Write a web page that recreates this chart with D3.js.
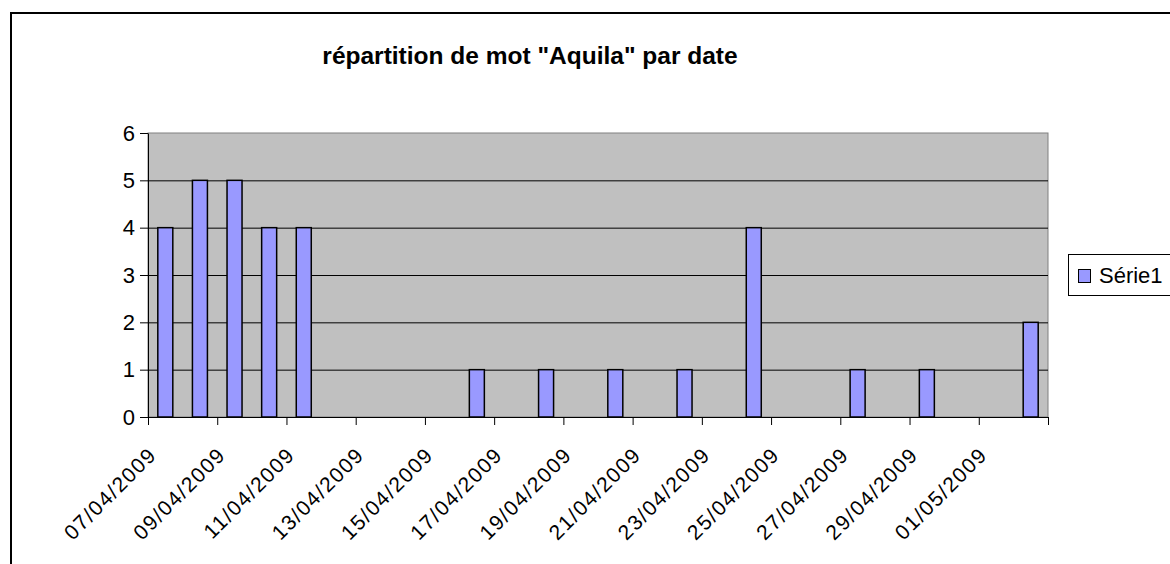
<!DOCTYPE html>
<html>
<head>
<meta charset="utf-8">
<script src="https://cdn.jsdelivr.net/npm/d3@7"></script>
<style>
  body { margin: 0; background: #fff; }
  svg text { font-family: "Liberation Sans", Arial, sans-serif; fill: #000; }
</style>
</head>
<body>
<script>
// data
var barDates = ["07/04/2009", "08/04/2009", "09/04/2009", "10/04/2009", "11/04/2009",
                "16/04/2009", "18/04/2009", "20/04/2009", "22/04/2009", "24/04/2009",
                "27/04/2009", "29/04/2009", "02/05/2009"];
var barValues = [4, 5, 5, 4, 4, 1, 1, 1, 1, 4, 1, 1, 2];
var tickLabels = ["07/04/2009", "09/04/2009", "11/04/2009", "13/04/2009", "15/04/2009",
                  "17/04/2009", "19/04/2009", "21/04/2009", "23/04/2009", "25/04/2009",
                  "27/04/2009", "29/04/2009", "01/05/2009"];
var yTicks = [0, 1, 2, 3, 4, 5, 6];
var axisEnd = "03/05/2009";
var seriesName = "Série1";
var title = 'répartition de mot "Aquila" par date';

var parseDate = d3.utcParse("%d/%m/%Y");

var width = 1170, height = 564;
var margin = {left: 148, right: 122, top: 133, bottom: 147};
var plotW = width - margin.left - margin.right;
var plotH = height - margin.top - margin.bottom;

var svg = d3.select("body").append("svg")
    .attr("width", width)
    .attr("height", height);

// chart outer frame
svg.append("rect")
   .attr("x", 11).attr("y", 13)
   .attr("width", 1200).attr("height", 600)
   .attr("fill", "#fff")
   .attr("stroke", "#000")
   .attr("stroke-width", 2);

var x = d3.scaleUtc()
    .domain([parseDate(tickLabels[0]), parseDate(axisEnd)])
    .range([0, plotW]);

var y = d3.scaleLinear()
    .domain([0, 6])
    .range([plotH, 0]);

var g = svg.append("g")
    .attr("transform", "translate(" + margin.left + "," + margin.top + ")");

// plot area
g.append("rect")
 .attr("width", plotW).attr("height", plotH)
 .attr("fill", "#c0c0c0")
 .attr("stroke", "#808080")
 .attr("stroke-width", 1);

// gridlines
g.selectAll(".grid")
 .data(yTicks.slice(1, -1))
 .enter().append("line")
 .attr("x1", 0).attr("x2", plotW)
 .attr("y1", function(d) { return y(d) + 0.5; })
 .attr("y2", function(d) { return y(d) + 0.5; })
 .attr("stroke", "#000")
 .attr("stroke-width", 1);

// bars
var oneDay = x(d3.utcDay.offset(parseDate(tickLabels[0]), 1)) - x(parseDate(tickLabels[0]));
var barW = 15;
g.selectAll(".bar")
 .data(barDates)
 .enter().append("rect")
 .attr("x", function(d) { return x(parseDate(d)) + oneDay / 2 - barW / 2; })
 .attr("y", function(d, i) { return y(barValues[i]); })
 .attr("width", barW)
 .attr("height", function(d, i) { return plotH - y(barValues[i]); })
 .attr("fill", "#9999ff")
 .attr("stroke", "#000")
 .attr("stroke-width", 1.5);

// y axis
var yAxis = g.append("g")
    .call(d3.axisLeft(y).tickValues(yTicks).tickSize(8).tickSizeOuter(0).tickFormat(d3.format("d")));
yAxis.select(".domain").attr("stroke", "#000");
yAxis.selectAll("text")
     .style("font-size", "22px")
     .attr("x", -13);

// x axis
var tickDates = tickLabels.map(parseDate).concat([parseDate(axisEnd)]);
var xAxis = g.append("g")
    .attr("transform", "translate(0," + plotH + ")")
    .call(d3.axisBottom(x).tickValues(tickDates).tickSize(8).tickSizeOuter(8)
      .tickFormat(function(d, i) { return i < tickLabels.length ? tickLabels[i] : ""; }));
xAxis.select(".domain").attr("stroke", "#000");
xAxis.selectAll("text")
     .style("font-size", "21px")
     .style("letter-spacing", "1.5px")
     .attr("text-anchor", "end")
     .attr("dy", "0.35em")
     .attr("y", 0)
     .attr("transform", "translate(4,34) rotate(-45)");

// title
svg.append("text")
   .attr("x", 530).attr("y", 64)
   .attr("text-anchor", "middle")
   .style("font-size", "24.5px")
   .style("font-weight", "bold")
   .text(title);

// legend
var leg = svg.append("g");
leg.append("rect")
   .attr("x", 1068.5).attr("y", 254.5)
   .attr("width", 140).attr("height", 41)
   .attr("fill", "#fff").attr("stroke", "#000").attr("stroke-width", 1);
leg.append("rect")
   .attr("x", 1078.5).attr("y", 269.5)
   .attr("width", 12).attr("height", 13)
   .attr("fill", "#9999ff").attr("stroke", "#000").attr("stroke-width", 1);
leg.append("text")
   .attr("x", 1099).attr("y", 283)
   .style("font-size", "22px")
   .text(seriesName);
</script>
</body>
</html>
